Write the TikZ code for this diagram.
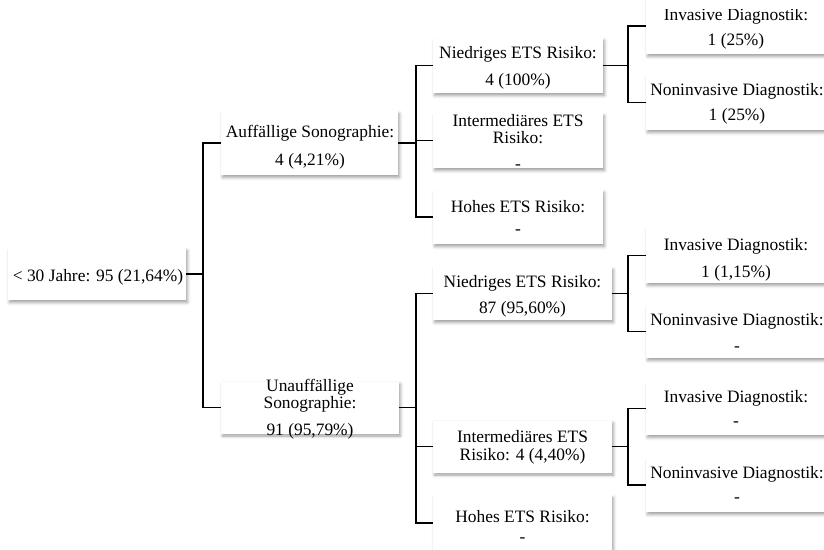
\documentclass[tikz,border=0pt]{standalone}
\usepackage{fontspec}
\setmainfont{Liberation Serif}
\usetikzlibrary{shadows.blur}
\tikzset{
  box/.style={rectangle, fill=white, draw=none, inner sep=0pt,
    blur shadow={shadow xshift=1.5pt, shadow yshift=-2.5pt, shadow blur radius=3pt, shadow opacity=38}},
  txt/.style={anchor=base, inner sep=0pt, font=\fontsize{17.4}{20}\selectfont},
  conn/.style={draw=black, line width=1.2pt}
}
\begin{document}
\begin{tikzpicture}[x=1pt, y=-1pt]
\useasboundingbox (0,0) rectangle (824,549);
\clip (0,0) rectangle (824,549);
% boxes
\node[box, minimum width=178pt, minimum height=52pt] (root) at (97,274) {};
\node[box, minimum width=177pt, minimum height=64pt] (auff) at (309.5,143) {};
\node[box, minimum width=178pt, minimum height=52pt] (unauf) at (310,407.5) {};
\node[box, minimum width=170pt, minimum height=55pt] (nied1) at (518,65.5) {};
\node[box, minimum width=170pt, minimum height=55pt] (int1) at (518,140.5) {};
\node[box, minimum width=170pt, minimum height=54pt] (hoh1) at (518,217) {};
\node[box, minimum width=179pt, minimum height=53pt] (nied2) at (522.5,293.5) {};
\node[box, minimum width=179pt, minimum height=52pt] (int2) at (522.5,446.5) {};
\node[box, minimum width=179pt, minimum height=56pt] (hoh2) at (522.5,523) {};
\node[box, minimum width=182pt, minimum height=56pt] (inv1) at (737,26) {};
\node[box, minimum width=182pt, minimum height=55pt] (non1) at (737,102.5) {};
\node[box, minimum width=182pt, minimum height=55pt] (inv2) at (737,255.5) {};
\node[box, minimum width=182pt, minimum height=53pt] (non2) at (737,331.5) {};
\node[box, minimum width=182pt, minimum height=53pt] (inv3) at (737,408.5) {};
\node[box, minimum width=182pt, minimum height=54pt] (non3) at (737,485) {};
% column coordinates
\coordinate (c1) at (203,0);
\coordinate (c2) at (416,0);
\coordinate (c3) at (628,0);
% connectors
\draw[conn] (root.east) -- (root.east -| c1);
\draw[conn] (auff.west) -- (auff.west -| c1) -- (unauf.west -| c1) -- (unauf.west);
\draw[conn] (auff.east) -- (auff.east -| c2);
\draw[conn] (nied1.west) -- (nied1.west -| c2) -- (hoh1.west -| c2) -- (hoh1.west);
\draw[conn] (int1.west) -- (int1.west -| c2);
\draw[conn] (unauf.east) -- (unauf.east -| c2);
\draw[conn] (nied2.west) -- (nied2.west -| c2) -- (hoh2.west -| c2) -- (hoh2.west);
\draw[conn] (int2.west) -- (int2.west -| c2);
\draw[conn] (nied1.east) -- (nied1.east -| c3);
\draw[conn] (inv1.west) -- (inv1.west -| c3) -- (non1.west -| c3) -- (non1.west);
\draw[conn] (nied2.east) -- (nied2.east -| c3);
\draw[conn] (inv2.west) -- (inv2.west -| c3) -- (non2.west -| c3) -- (non2.west);
\draw[conn] (int2.east) -- (int2.east -| c3);
\draw[conn] (inv3.west) -- (inv3.west -| c3) -- (non3.west -| c3) -- (non3.west);
% texts
\node[txt] (t-root) at (98,281) {< 30 Jahre: 95 (21,64\%)};
\node[txt] (t-auff-a) at (310,137) {Auffällige Sonographie:};
\node[txt] (t-auff-b) at (310,165) {4 (4,21\%)};
\node[txt] (t-unauf-a) at (310,391) {Unauffällige};
\node[txt] (t-unauf-b) at (310,408) {Sonographie:};
\node[txt] (t-unauf-c) at (310,435) {91 (95,79\%)};
\node[txt] (t-nied1-a) at (518,58) {Niedriges ETS Risiko:};
\node[txt] (t-nied1-b) at (518,85) {4 (100\%)};
\node[txt] (t-int1-a) at (518,126) {Intermediäres ETS};
\node[txt] (t-int1-b) at (518,143) {Risiko:};
\node[txt] (t-int1-c) at (518,169) {-};
\node[txt] (t-hoh1-a) at (518,212) {Hohes ETS Risiko:};
\node[txt] (t-hoh1-b) at (518,234) {-};
\node[txt] (t-nied2-a) at (522.5,287) {Niedriges ETS Risiko:};
\node[txt] (t-nied2-b) at (522.5,313) {87 (95,60\%)};
\node[txt] (t-int2-a) at (522.5,442) {Intermediäres ETS};
\node[txt] (t-int2-b) at (522.5,460) {Risiko: 4 (4,40\%)};
\node[txt] (t-hoh2-a) at (522.5,522) {Hohes ETS Risiko:};
\node[txt] (t-hoh2-b) at (522.5,542) {-};
\begin{scope}
\clip (600,9) rectangle (824,60);
\node[txt] (t-inv1-a) at (736,20) {Invasive Diagnostik:};
\end{scope}
\node[txt] (t-inv1-b) at (736,45) {1 (25\%)};
\node[txt] (t-non1-a) at (737,95) {Noninvasive Diagnostik:};
\node[txt] (t-non1-b) at (737,120) {1 (25\%)};
\node[txt] (t-inv2-a) at (736,250) {Invasive Diagnostik:};
\node[txt] (t-inv2-b) at (736,277) {1 (1,15\%)};
\node[txt] (t-non2-a) at (737,325) {Noninvasive Diagnostik:};
\node[txt] (t-non2-b) at (737,351) {-};
\node[txt] (t-inv3-a) at (736,402) {Invasive Diagnostik:};
\node[txt] (t-inv3-b) at (736,426) {-};
\node[txt] (t-non3-a) at (737,478) {Noninvasive Diagnostik:};
\node[txt] (t-non3-b) at (737,502) {-};
\end{tikzpicture}
\end{document}
